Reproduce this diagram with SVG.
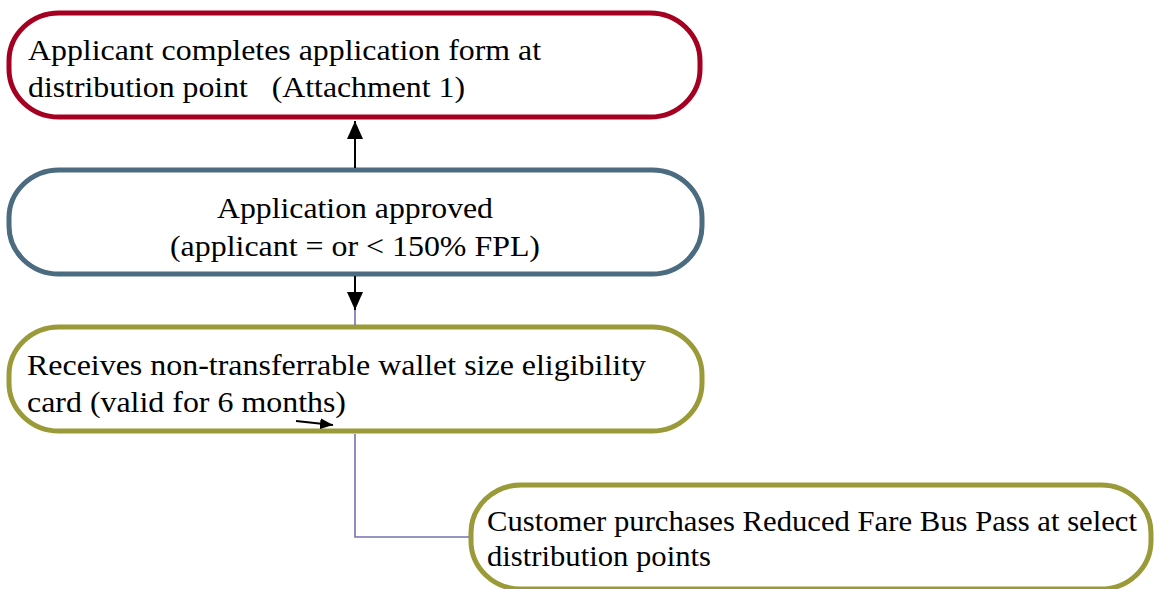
<svg xmlns="http://www.w3.org/2000/svg" width="1154" height="589" viewBox="0 0 1154 589">
<style>
.box{fill:#fff;stroke-width:5}
.t{font-family:"Liberation Serif","Times New Roman",serif;font-size:30px;fill:#000}
.ar{stroke:#000;stroke-width:2;fill:none}
.pl{stroke:#7471B0;stroke-width:1.6;fill:none}
</style>
<defs>
<marker id="ahb" viewBox="0 0 10 10" refX="10" refY="5" markerWidth="18" markerHeight="16" markerUnits="userSpaceOnUse" orient="auto" preserveAspectRatio="none">
<path d="M0,0 L10,5 L0,10 z" fill="#000"/>
</marker>
<marker id="ahs" viewBox="0 0 10 10" refX="10" refY="5" markerWidth="13" markerHeight="11" markerUnits="userSpaceOnUse" orient="auto" preserveAspectRatio="none">
<path d="M0,0 L10,5 L0,10 z" fill="#000"/>
</marker>
</defs>
<g id="n1">
<rect class="box" x="9" y="13" width="691" height="104" rx="50" ry="48" stroke="#A50021"/>
<text class="t" x="28" y="60" textLength="513" lengthAdjust="spacingAndGlyphs">Applicant completes application form at</text>
<text class="t" x="28" y="97" xml:space="preserve" textLength="437" lengthAdjust="spacingAndGlyphs">distribution point   (Attachment 1)</text>
</g>
<g id="n2">
<rect class="box" x="9" y="170" width="693" height="104" rx="50" ry="48" stroke="#4A6B80"/>
<text class="t" x="217" y="218" textLength="276" lengthAdjust="spacingAndGlyphs">Application approved</text>
<text class="t" x="170" y="256" textLength="370" lengthAdjust="spacingAndGlyphs">(applicant = or &lt; 150% FPL)</text>
</g>
<g id="n3">
<rect class="box" x="9" y="327" width="693" height="104" rx="50" ry="48" stroke="#9A9A38"/>
<text class="t" x="27" y="375" textLength="619" lengthAdjust="spacingAndGlyphs">Receives non-transferrable wallet size eligibility</text>
<text class="t" x="27" y="412" textLength="319" lengthAdjust="spacingAndGlyphs">card (valid for 6 months)</text>
</g>
<g id="n4">
<rect class="box" x="471" y="485" width="680" height="104" rx="50" ry="48" stroke="#9A9A38"/>
<text class="t" x="487" y="531" textLength="650" lengthAdjust="spacingAndGlyphs">Customer purchases Reduced Fare Bus Pass at select</text>
<text class="t" x="487" y="566" textLength="224" lengthAdjust="spacingAndGlyphs">distribution points</text>
</g>
<g id="connectors">
<line class="pl" x1="355" y1="300" x2="355" y2="325"/>
<polyline class="pl" points="355,434 355,537 469,537"/>
<line class="ar" x1="355" y1="168" x2="355" y2="121" marker-end="url(#ahb)"/>
<line class="ar" x1="355" y1="276" x2="355" y2="310" marker-end="url(#ahb)"/>
<line class="ar" x1="296" y1="421" x2="333" y2="425" marker-end="url(#ahs)"/>
</g>
</svg>
